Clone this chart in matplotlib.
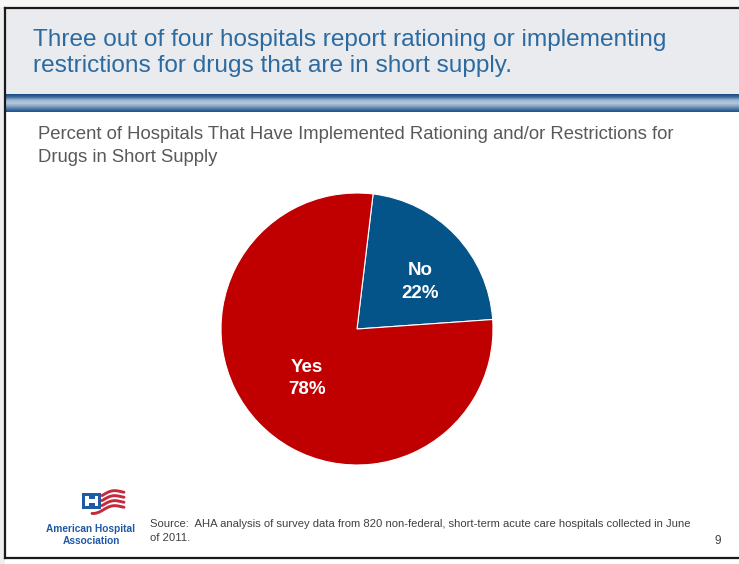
import numpy as np
import matplotlib
matplotlib.use("Agg")
import matplotlib.pyplot as plt
from matplotlib.patches import Rectangle
from matplotlib.colors import LinearSegmentedColormap

plt.rcParams['font.family'] = ['Liberation Sans', 'DejaVu Sans']

# ---- data ----
title = "Three out of four hospitals report rationing or implementing\nrestrictions for drugs that are in short supply."
subtitle = "Percent of Hospitals That Have Implemented Rationing and/or Restrictions for\nDrugs in Short Supply"
categories = ["No", "Yes"]
percents = [22, 78]
slice_colors = ["#04548A", "#C00000"]
source = ("Source:  AHA analysis of survey data from 820 non-federal, short-term acute care hospitals collected in June\n"
          "of 2011.")
page_number = "9"

W, H = 739, 564
fig = plt.figure(figsize=(W / 100, H / 100), dpi=100)
fig.patch.set_facecolor("white")

# full-figure canvas in pixel units (y downward)
bg = fig.add_axes([0, 0, 1, 1])
bg.set_xlim(0, W)
bg.set_ylim(H, 0)
bg.axis("off")

# soft shadow outside the slide frame
bg.add_patch(Rectangle((0, 0), 5, H, facecolor="#EEEEEE", edgecolor="none"))
bg.add_patch(Rectangle((0, 0), W, 7, facecolor="#F6F6F6", edgecolor="none"))

# header band
bg.add_patch(Rectangle((5, 8), W, 86, facecolor="#E9EBEE", edgecolor="none"))

# blue gradient bar under the header
stops = ["#174B80", "#3F6E9F", "#9DB5D0", "#B7C9DD", "#8AA7C8", "#4A77A6", "#1F5288"]
cmap = LinearSegmentedColormap.from_list("bar", stops)
grad = np.linspace(0, 1, 64).reshape(-1, 1)
bg.imshow(grad, cmap=cmap, extent=(5, W, 112, 94), aspect="auto", zorder=1)

# slide frame
bg.plot([5, 5], [8, 558], color="#1A1A1A", lw=1.6, zorder=3)
bg.plot([5, W], [8, 8], color="#1A1A1A", lw=1.6, zorder=3)
bg.plot([5, W], [558, 558], color="#1A1A1A", lw=1.6, zorder=3)

# titles
bg.text(33, 53, title, fontsize=17.6, color="#2C6AA0", va="center", ha="left",
        linespacing=1.18)
bg.text(38, 146, subtitle, fontsize=13.3, color="#595959", va="center", ha="left",
        linespacing=1.45)

# source and page number
bg.text(150, 531, source, fontsize=8.1, color="#404040", va="center", ha="left",
        linespacing=1.55)
bg.text(718, 541, page_number, fontsize=8.5, color="#404040", va="center", ha="center")

# AHA logo: blue box with white H, red waving stripes
logo_blue = "#1F5AA6"
bg.add_patch(Rectangle((82, 493), 19, 16, facecolor=logo_blue, edgecolor="none", zorder=2))
bg.add_patch(Rectangle((85, 496), 13, 10, facecolor="white", edgecolor="none", zorder=2))
bg.add_patch(Rectangle((88.5, 496), 6, 3.4, facecolor=logo_blue, edgecolor="none", zorder=2))
bg.add_patch(Rectangle((88.5, 502.6), 6, 3.4, facecolor=logo_blue, edgecolor="none", zorder=2))
stripe_starts = [102, 102, 102, 92]
for k, x0 in enumerate(stripe_starts):
    xs = np.linspace(x0, 124, 40)
    t = (xs - 90) / (124 - 90)
    ys = 497 + 5 * k - 6 * t + 2.2 * np.sin(2 * np.pi * t + 0.6)
    bg.plot(xs, ys, color="#C42A3C", lw=2.1, solid_capstyle="round", zorder=2)
bg.text(91, 529, "American Hospital", fontsize=7.3, fontweight="bold", color=logo_blue,
        ha="center", va="center")
bg.text(91, 541, "Association", fontsize=7.3, fontweight="bold", color=logo_blue,
        ha="center", va="center")

# pie chart
cx, cy, r = 357, 329, 136
ax = fig.add_axes([(cx - r) / W, (H - cy - r) / H, 2 * r / W, 2 * r / H])
wedges, _ = ax.pie(percents, colors=slice_colors, startangle=4, counterclock=True,
                   wedgeprops=dict(edgecolor="white", linewidth=0.8))
ax.set_xlim(-1, 1)
ax.set_ylim(-1, 1)
ax.set_aspect("equal")
# label placement: (radial distance, angular shift in degrees) per slice
label_place = [(0.58, -7), (0.52, 1)]
for w, cat, pct, (d, shift) in zip(wedges, categories, percents, label_place):
    ang = np.deg2rad((w.theta1 + w.theta2) / 2 + shift)
    ax.text(d * np.cos(ang), d * np.sin(ang), f"{cat}\n{pct}%", ha="center", va="center",
            color="white", fontsize=13.5, fontweight="bold", linespacing=1.4)

fig.savefig("out.png", dpi=100, facecolor="white")
